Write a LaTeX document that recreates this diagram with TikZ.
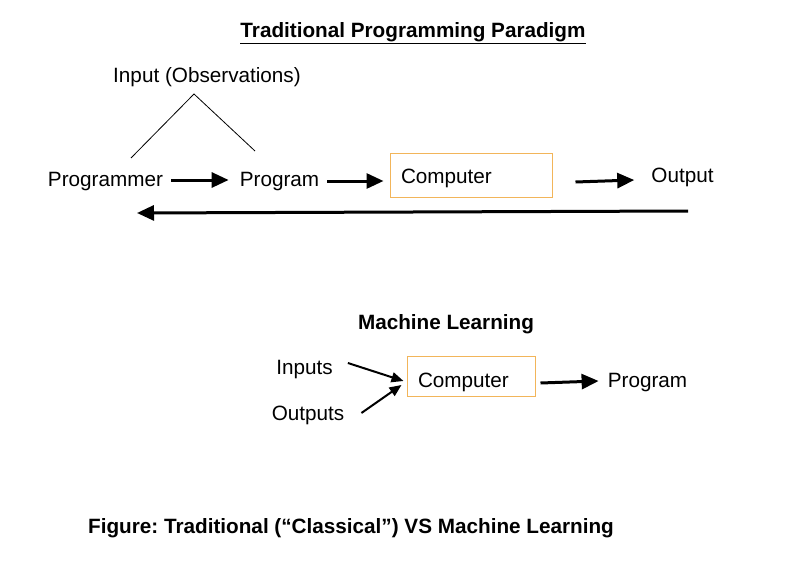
\documentclass[tikz,border=0pt]{standalone}
\usepackage{fontspec}
\setmainfont{Liberation Sans}
\usetikzlibrary{arrows.meta}
\definecolor{boxorange}{HTML}{F2B55A}
\tikzset{
  txt/.style={font=\fontsize{20.7}{24}\selectfont, inner sep=0pt},
  btxt/.style={font=\fontsize{20.7}{24}\selectfont\bfseries, inner sep=0pt},
  bigarrow/.style={line width=3pt, -{Triangle[length=17pt,width=15pt]}},
  thinarrow/.style={line width=2pt, -{Triangle[length=12pt,width=10pt]}},
  cbox/.style={draw=boxorange, line width=1pt, font=\fontsize{20.7}{24}\selectfont, align=left, inner sep=0pt},
  thin/.style={line width=0.8pt}
}
\frenchspacing
\begin{document}
\begin{tikzpicture}[x=1pt,y=-1pt]
\useasboundingbox (0,0) rectangle (785,570);
% title
\node[btxt] (title) at (413,33) {\underline{Traditional Programming Paradigm}};
\node[txt] (inp) at (207,77) {Input (Observations)};
\coordinate (peak) at (194,94);
\coordinate (lft) at (131,158);
\coordinate (rgt) at (255,151);
\draw[thin] (lft) -- (peak) -- (rgt);
\node[txt] (prgmr) at (105.5,181.5) {Programmer};
\node[txt] (prog) at (279.5,181.5) {Program};
\node[cbox, minimum width=162pt, minimum height=44pt, text width=140pt] (comp) at (471,175)
  {\raisebox{-3pt}[\height][\depth]{Computer\vphantom{p}}};
\node[txt] (out) at (682.5,177.5) {Output};
\draw[bigarrow] ([xshift=8pt,yshift=1.5pt]prgmr.east) -- ([xshift=-11pt,yshift=1.5pt]prog.west);
\draw[bigarrow] ([xshift=8pt,yshift=0.5pt]prog.east) -- ([xshift=-6pt,yshift=-6pt]comp.west);
\draw[bigarrow] ([xshift=23pt,yshift=-7pt]comp.east) -- ([xshift=-17pt,yshift=-2.5pt]out.west);
\coordinate (backs) at (688,211);
\coordinate (backe) at (137,213);
\draw[bigarrow] (backs) -- (backe);
% machine learning
\node[btxt] (ml) at (446,324) {Machine Learning};
\node[txt] (ins) at (304.5,370) {Inputs};
\node[txt] (outs) at (308,415.5) {Outputs};
\node[cbox, minimum width=128pt, minimum height=40pt, text width=106pt] (comp2) at (471,376)
  {\raisebox{-6pt}[\height][\depth]{Computer\vphantom{p}}};
\node[txt] (prog2) at (647.5,383) {Program};
\draw[thinarrow] ([xshift=15pt,yshift=7pt]ins.east) -- ([xshift=-3pt,yshift=-5pt]comp2.west);
\draw[thinarrow] ([xshift=17pt,yshift=2.5pt]outs.east) -- ([xshift=-5pt,yshift=-9pt]comp2.west);
\draw[bigarrow] ([xshift=5pt,yshift=-7pt]comp2.east) -- ([xshift=-9pt,yshift=2pt]prog2.west);
% caption
\node[btxt] (cap) at (351,528) {Figure: Traditional (“Classical”) VS Machine Learning};
\end{tikzpicture}
\end{document}
